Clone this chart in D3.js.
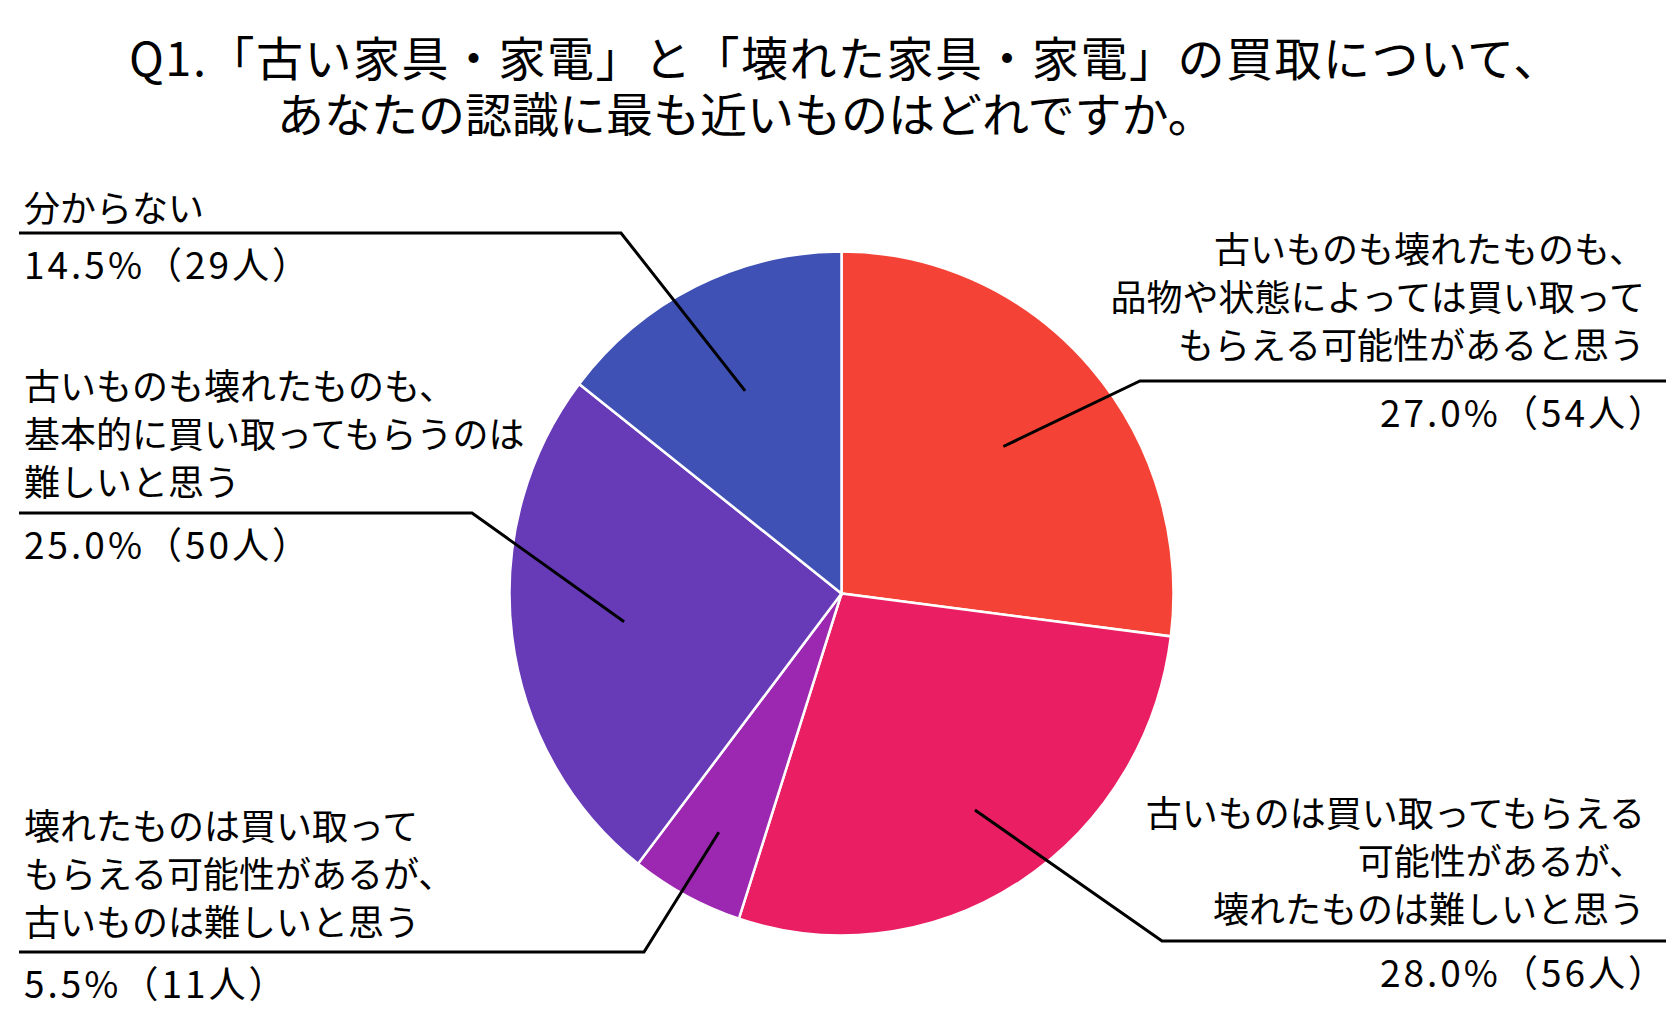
<!DOCTYPE html>
<html>
<head>
<meta charset="utf-8">
<script src="https://cdn.jsdelivr.net/npm/d3@7/dist/d3.min.js"></script>
<style>
  html, body { margin: 0; padding: 0; background: #fff; }
  text { font-family: "Noto Sans CJK JP", "Noto Sans", sans-serif; fill: #000; }
</style>
</head>
<body>
<div id="chart"></div>
<script>
// data, clockwise from 12 o'clock
var categories = [
  ["古いものも壊れたものも、", "品物や状態によっては買い取って", "もらえる可能性があると思う"],
  ["古いものは買い取ってもらえる", "可能性があるが、", "壊れたものは難しいと思う"],
  ["壊れたものは買い取って", "もらえる可能性があるが、", "古いものは難しいと思う"],
  ["古いものも壊れたものも、", "基本的に買い取ってもらうのは", "難しいと思う"],
  ["分からない"]
];
var percents = [27.0, 28.0, 5.5, 25.0, 14.5];
var counts = [54, 56, 11, 50, 29];
var colors = ["#F44336", "#E91E63", "#9C27B0", "#673AB7", "#3F51B5"];
var titleLines = ["Q1.「古い家具・家電」と「壊れた家具・家電」の買取について、",
                  "あなたの認識に最も近いものはどれですか。"];

var width = 1675, height = 1011;
var cx = 841.5, cy = 593.5, r = 332;

// label placement (layout only): text anchor x, first baseline, underline y, elbow x
var labelPos = [
  {anchor: "end",   x: 1645, px: 1668, y: 263, lineY: 381, elbowX: 1140, depth: 0.65},
  {anchor: "end",   x: 1645, px: 1668, y: 827, lineY: 941, elbowX: 1162, depth: 0.75},
  {anchor: "start", x: 24,   px: 24,   y: 840, lineY: 952, elbowX: 644,  depth: 0.79},
  {anchor: "start", x: 24,   px: 24,   y: 400, lineY: 513, elbowX: 472,  depth: 0.66},
  {anchor: "start", x: 24,   px: 24,   y: 222, lineY: 233, elbowX: 621,  depth: 0.66}
];

var svg = d3.select("#chart").append("svg")
    .attr("width", width)
    .attr("height", height);

// title (one text block, two lines)
var title = svg.append("text")
    .style("font-size", "47px");
title.append("tspan")
    .attr("x", 129).attr("y", 76)
    .style("letter-spacing", "1.5px")
    .text(titleLines[0]);
title.append("tspan")
    .attr("x", 277).attr("y", 132)
    .text(titleLines[1]);

var pie = d3.pie().sort(null).value(function(d) { return d; });
var arcs = pie(counts);

var arc = d3.arc().innerRadius(0).outerRadius(r);

// pie is very slightly taller than wide in the reference
var g = svg.append("g")
    .attr("transform", "translate(" + cx + "," + cy + ") scale(1,1.03)");

g.selectAll("path.slice")
    .data(arcs)
  .enter().append("path")
    .attr("class", "slice")
    .attr("d", arc)
    .attr("fill", function(d, i) { return colors[i]; })
    .attr("stroke", "#fff")
    .attr("stroke-width", 2.5);

// leader lines
arcs.forEach(function(d, i) {
  var p = labelPos[i];
  var inner = d3.arc().innerRadius(r * p.depth).outerRadius(r * p.depth);
  var c = inner.centroid(d);
  var px = cx + c[0], py = cy + c[1] * 1.03;
  var endX = p.anchor === "end" ? 1666 : 19;
  svg.append("path")
      .attr("d", d3.line()([[px, py], [p.elbowX, p.lineY], [endX, p.lineY]]))
      .attr("fill", "none")
      .attr("stroke", "#000")
      .attr("stroke-width", 3);
});

// labels
var lineH = 48;
categories.forEach(function(lines, i) {
  var p = labelPos[i];
  var t = svg.append("g");
  lines.forEach(function(s, k) {
    t.append("text")
        .attr("x", p.x)
        .attr("y", p.y + k * lineH)
        .attr("text-anchor", p.anchor)
        .style("font-size", "36px")
        .text(s);
  });
  t.append("text")
      .attr("x", p.px)
      .attr("y", p.lineY + 46)
      .attr("text-anchor", p.anchor)
      .style("font-size", "37px")
      .style("letter-spacing", "3px")
      .text(d3.format(".1f")(percents[i]) + "%（" + counts[i] + "人）");
});
</script>
</body>
</html>
